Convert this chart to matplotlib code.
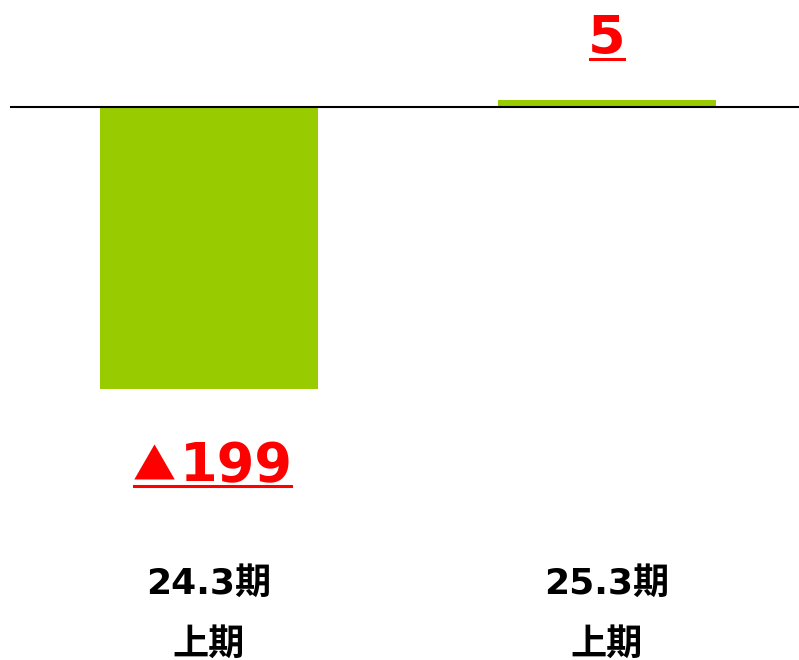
import matplotlib
matplotlib.use("Agg")
import matplotlib.pyplot as plt
from matplotlib.lines import Line2D

plt.rcParams["font.family"] = ["DejaVu Sans", "Noto Sans CJK JP"]

# data
categories = ["24.3期\n上期", "25.3期\n上期"]
values = [-199, 5]

BAR_COLOR = "#99CC00"
LABEL_COLOR = "#FF0000"

W, H = 799, 660
fig = plt.figure(figsize=(W / 100, H / 100), dpi=100)
# axes: from x=10px to right edge, from top to 550px
ax = fig.add_axes([10 / W, (H - 550) / H, (W - 10) / W, 550 / H])

px_per_unit = 282 / 199
zero_px = 107
ax.set_ylim(-(550 - zero_px) / px_per_unit, zero_px / px_per_unit)
ax.set_xlim(-0.5, 1 + 192 / 398)

x = list(range(len(values)))
ax.bar(x, values, width=218 / 398, color=BAR_COLOR, zorder=2)
ax.axhline(0, color="black", lw=1.5, zorder=3)

for s in ax.spines.values():
    s.set_visible(False)
ax.set_yticks([])
ax.set_xticks(x)
ax.set_xticklabels(categories, fontsize=26, fontweight="bold", linespacing=2.0)
ax.tick_params(axis="x", length=0, pad=12)

# value labels: number (+ triangle for negatives, japanese style)
labels = []
for xi, v in zip(x, values):
    off = 46 if v >= 0 else -92
    num = ax.annotate(f"{abs(v)}", (xi, v), xytext=(0, off), textcoords="offset pixels",
                      ha="left", va="baseline", fontsize=39, fontweight="bold",
                      color=LABEL_COLOR)
    tri = None
    if v < 0:
        tri = ax.annotate("▲", (xi, v), xytext=(0, off), textcoords="offset pixels",
                          ha="right", va="baseline", fontsize=31, fontweight="bold",
                          family="Noto Sans CJK JP", color=LABEL_COLOR)
    labels.append((num, tri, off))

fig.canvas.draw()
r = fig.canvas.get_renderer()
for num, tri, off in labels:
    wn = num.get_window_extent(r).width
    if tri is not None:
        wt = tri.get_window_extent(r).width
        gap = 4
        split = -(wn + wt + gap) / 2 + wt + 4
        tri.xyann = (split, off)
        num.xyann = (split + gap, off)
    else:
        num.xyann = (-wn / 2, off)

fig.canvas.draw()
for num, tri, off in labels:
    bb = num.get_window_extent(r)
    x0 = tri.get_window_extent(r).x0 + 1 if tri is not None else bb.x0 + 2
    base = ax.transData.transform(num.xy)[1] + off
    y = base - 5
    fig.add_artist(Line2D([x0, bb.x1 - 2], [y, y], transform=None,
                          color=LABEL_COLOR, lw=2.2))

fig.savefig("out.png", dpi=100)
